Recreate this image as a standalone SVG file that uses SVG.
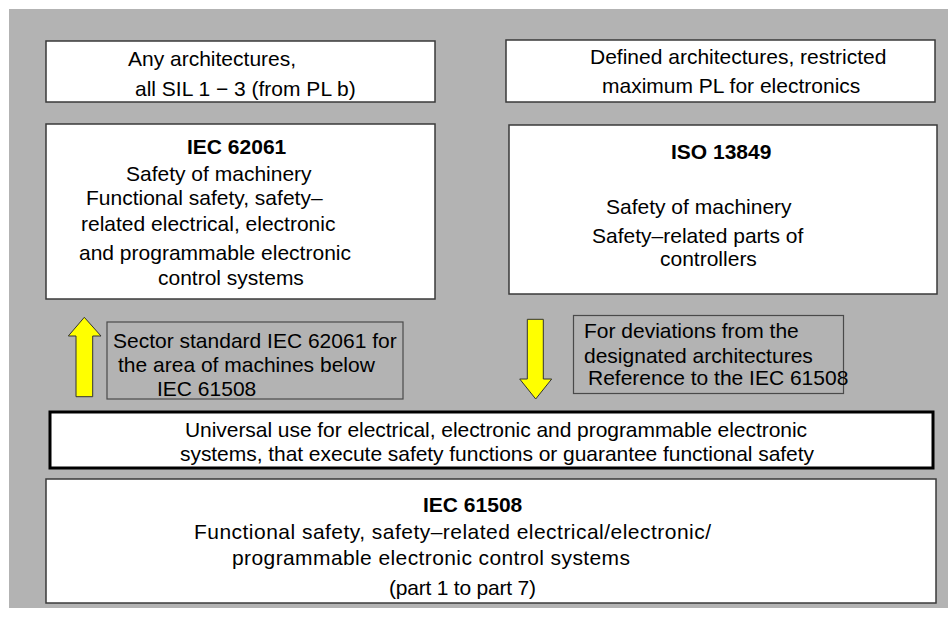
<svg xmlns="http://www.w3.org/2000/svg" width="948" height="617" viewBox="0 0 948 617">
<style>
text{font-family:"Liberation Sans",Arial,sans-serif;font-size:21px;fill:#000}
.b{font-weight:bold}
.box{fill:#fff;stroke:#3a3a3a;stroke-width:1.5}
.note{fill:#b3b3b3;stroke:#4a4a4a;stroke-width:1.2}
.arrow{fill:#ffff00;stroke:#333;stroke-width:1}
</style>
<rect x="0" y="0" width="948" height="617" fill="#fff"/>
<rect x="9" y="9" width="939" height="599" fill="#b3b3b3"/>

<g id="any-arch">
<rect class="box" x="46" y="41" width="389" height="61"/>
<text x="128" y="66">Any architectures,</text>
<text x="135" y="96">all SIL 1 − 3 (from PL b)</text>
</g>

<g id="defined-arch">
<rect class="box" x="506" y="40" width="429" height="62"/>
<text x="590" y="64">Defined architectures, restricted</text>
<text x="602" y="92.5">maximum PL for electronics</text>
</g>

<g id="iec62061">
<rect class="box" x="46" y="124" width="389" height="175"/>
<text class="b" x="187" y="154">IEC 62061</text>
<text x="126" y="180.5">Safety of machinery</text>
<text x="86" y="205">Functional safety, safety–</text>
<text x="81" y="231">related electrical, electronic</text>
<text x="79" y="260">and programmable electronic</text>
<text x="158" y="284.5">control systems</text>
</g>

<g id="iso13849">
<rect class="box" x="509" y="125" width="428" height="169"/>
<text class="b" x="671" y="158.5">ISO 13849</text>
<text x="606" y="214">Safety of machinery</text>
<text x="592" y="242.5">Safety–related parts of</text>
<text x="660" y="265.5">controllers</text>
</g>

<g id="sector-note">
<rect class="note" x="107" y="322" width="296" height="77"/>
<text x="113" y="347.5">Sector standard IEC 62061 for</text>
<text x="118" y="371.5">the area of machines below</text>
<text x="157" y="395.5">IEC 61508</text>
</g>

<g id="deviation-note">
<rect class="note" x="573.5" y="315.5" width="270" height="78"/>
<text x="584" y="337.5">For deviations from the</text>
<text x="584" y="363">designated architectures</text>
<text x="588" y="385">Reference to the IEC 61508</text>
</g>

<g id="universal">
<rect x="50" y="412" width="883" height="56" fill="#fff" stroke="#000" stroke-width="3"/>
<text x="185" y="437" textLength="622">Universal use for electrical, electronic and programmable electronic</text>
<text x="180" y="461" textLength="634">systems, that execute safety functions or guarantee functional safety</text>
</g>

<g id="iec61508">
<rect class="box" x="46" y="479" width="890" height="124"/>
<text class="b" x="423" y="512">IEC 61508</text>
<text x="194" y="538.5" textLength="517">Functional safety, safety–related electrical/electronic/</text>
<text x="232" y="565" textLength="398">programmable electronic control systems</text>
<text x="389" y="595" textLength="147">(part 1 to part 7)</text>
</g>

<g id="connectors">
<polygon class="arrow" points="84.3,317.3 101,336 92.7,336 92.7,396.7 76,396.7 76,336 68.3,336"/>
<polygon class="arrow" points="527.3,319.3 543.3,319.3 543.3,379 551.7,379 535.7,399 519.7,379 527.3,379"/>
</g>
</svg>
